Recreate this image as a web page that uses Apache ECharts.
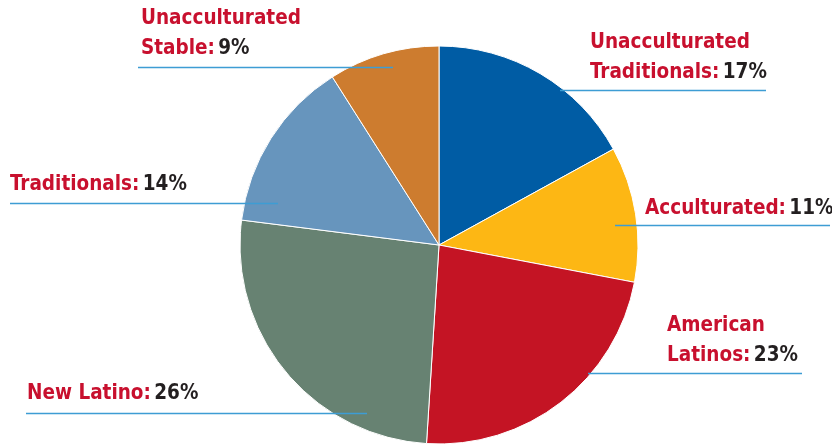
<!DOCTYPE html>
<html>
<head>
<meta charset="utf-8">
<script src="https://cdn.jsdelivr.net/npm/echarts@6/dist/echarts.min.js"></script>
<style>html,body{margin:0;padding:0;background:#fff}#c{width:832px;height:444px}</style>
</head>
<body>
<div id="c"></div>
<script>
// Data
const categories = ['Unacculturated\nTraditionals', 'Acculturated', 'American\nLatinos', 'New Latino', 'Traditionals', 'Unacculturated\nStable'];
const values = [17, 11, 23, 26, 14, 9];
const percentLabels = ['17%', '11%', '23%', '26%', '14%', '9%'];

// Styling / layout (not data)
const colors = ['#005ca4', '#fdb714', '#c41424', '#678272', '#6795bd', '#cd7c2f'];
// label left x, label bottom y, underline y, underline x start, underline x end
const labelPos = [
  {x: 590, y: 88, ly: 90.5, x1: 560, x2: 766},
  {x: 645, y: 224, ly: 225.5, x1: 615, x2: 830},
  {x: 667, y: 371, ly: 373.5, x1: 588, x2: 802},
  {x: 27, y: 409, ly: 413.5, x1: 26, x2: 367},
  {x: 10, y: 200, ly: 203.5, x1: 10, x2: 278},
  {x: 141, y: 64, ly: 67.5, x1: 138, x2: 393}
];

const chart = echarts.init(document.getElementById('c'), null, {renderer: 'canvas'});
const FONT = '"DejaVu Sans Condensed", "Liberation Sans Narrow", sans-serif';
chart.setOption({
  animation: false,
  graphic: labelPos.map(L => ({
    type: 'line', z: 100, silent: true,
    shape: {x1: L.x1, y1: L.ly, x2: L.x2, y2: L.ly},
    style: {stroke: '#3d9dd4', lineWidth: 1.4}
  })),
  series: [{
    type: 'pie',
    center: [439, 245],
    radius: 199,
    startAngle: 90,
    clockwise: true,
    data: categories.map((c, i) => ({name: c, value: values[i], itemStyle: {color: colors[i]}})),
    itemStyle: {borderColor: '#fff', borderWidth: 1},
    label: {
      show: true,
      position: 'outside',
      overflow: 'none',
      formatter: function (p) {
        const parts = p.name.split('\n');
        const last = parts.pop();
        const lines = parts.map(s => '{n|' + s + '}');
        lines.push('{n|' + last + ':} {v|' + percentLabels[p.dataIndex] + '}');
        return lines.join('\n');
      },
      rich: {
        n: {color: '#c8102e', fontFamily: FONT, fontWeight: 'bold', fontSize: 20.5, lineHeight: 30},
        v: {color: '#231f20', fontFamily: FONT, fontWeight: 'bold', fontSize: 20.5, lineHeight: 30}
      }
    },
    labelLine: {show: false},
    labelLayout: function (params) {
      const L = labelPos[params.dataIndex];
      return {x: L.x, y: L.y, align: 'left', verticalAlign: 'bottom'};
    },
    emphasis: {disabled: true}
  }]
});
</script>
</body>
</html>
